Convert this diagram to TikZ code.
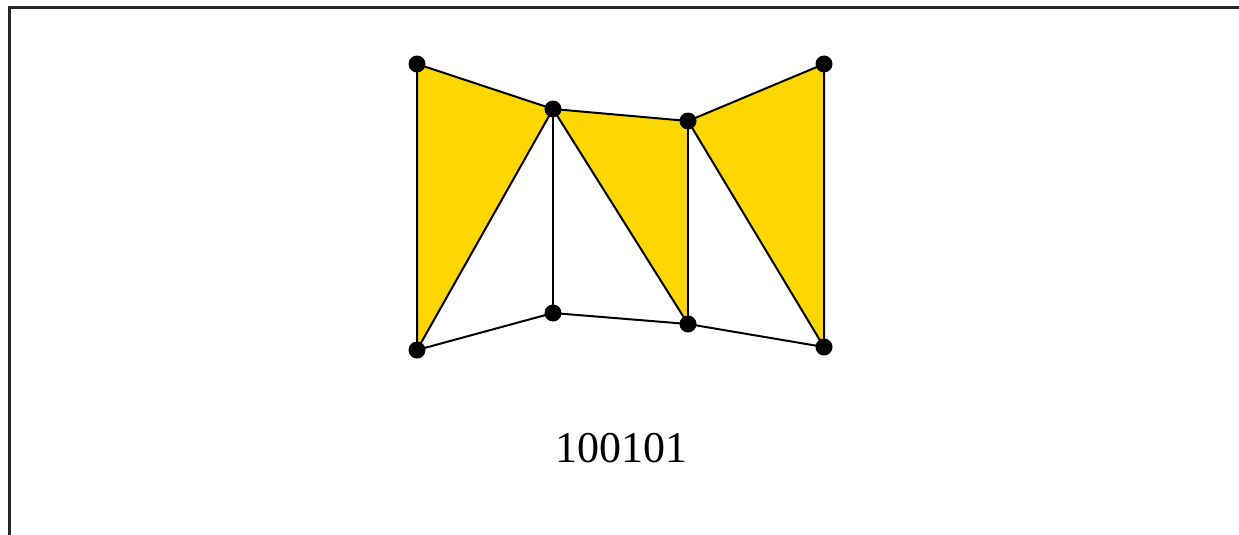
\documentclass[tikz,border=0pt]{standalone}
\usepackage{fontspec}
\setmainfont{Liberation Serif}
\definecolor{gold}{RGB}{255,215,0}
\tikzset{
  vtx/.style={circle,fill=black,inner sep=0pt,minimum size=17pt},
  edge/.style={line width=2pt,black},
  face/.style={fill=gold},
  frame/.style={line width=2.4pt,black!85}
}
\begin{document}
\begin{tikzpicture}[x=1pt,y=-1pt]
\useasboundingbox (0,0) rectangle (1239,535);
\fill[white] (0,0) rectangle (1239,535);
\coordinate (fl) at (9.5,535);
\coordinate (ftl) at (9.5,7.5);
\coordinate (fr) at (1239,7.5);
\draw[frame] (fl) -- (ftl) -- (fr);
\coordinate (A) at (417,64);
\coordinate (B) at (553,109);
\coordinate (C) at (688,121);
\coordinate (D) at (824,64);
\coordinate (Ab) at (417,350);
\coordinate (Bb) at (553,313);
\coordinate (Cb) at (688,324);
\coordinate (Db) at (824,347);
\fill[face] (A) -- (B) -- (Ab) -- cycle;
\fill[face] (B) -- (C) -- (Cb) -- cycle;
\fill[face] (C) -- (D) -- (Db) -- cycle;
\draw[edge,line join=round] (A) -- (B) -- (C) -- (D) -- (Db) -- (Cb) -- (Bb) -- (Ab) -- cycle;
\draw[edge] (B) -- (Bb);
\draw[edge] (C) -- (Cb);
\draw[edge] (B) -- (Ab);
\draw[edge] (B) -- (Cb);
\draw[edge] (C) -- (Db);
\foreach \p in {A,B,C,D,Ab,Bb,Cb,Db} \node[vtx] (n\p) at (\p) {};
\node[font=\fontsize{44}{48}\selectfont,inner sep=0pt] (lbl) at (621,448) {100101};
\end{tikzpicture}
\end{document}
